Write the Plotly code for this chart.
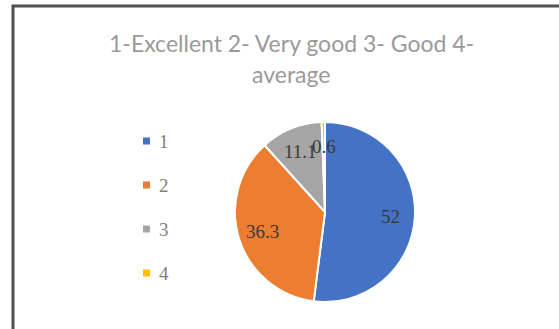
import math
import plotly.graph_objects as go

# Survey rating distribution (percent)
categories = ["1", "2", "3", "4"]
values = [52, 36.3, 11.1, 0.6]
colors = ["#4472C4", "#ED7D31", "#A5A5A5", "#FFC000"]
title_lines = ["1-Excellent 2- Very good 3- Good 4-", "average"]

W, H = 559, 329
cx, cy, r = 325, 212, 90  # pie centre in pixels (from top-left) and radius


def px(x, y):
    """Convert pixel position (from top-left) to paper coordinates."""
    return x / W, 1 - y / H


fig = go.Figure(
    go.Pie(
        labels=categories,
        values=values,
        sort=False,
        direction="clockwise",
        rotation=0,
        marker=dict(colors=colors, line=dict(color="white", width=2)),
        textinfo="none",
        hoverinfo="label+value",
        showlegend=False,
        domain=dict(x=[(cx - r) / W, (cx + r) / W],
                    y=[(H - cy - r) / H, (H - cy + r) / H]),
    )
)

annotations = []
shapes = []

# Data labels placed inside each slice at its mid-angle
total = sum(values)
cum = 0.0
label_frac = 0.73
for v in values:
    mid = (cum + v / 2) / total * 2 * math.pi
    cum += v
    lx = cx + label_frac * r * math.sin(mid)
    ly = cy - label_frac * r * math.cos(mid)
    xp, yp = px(lx, ly)
    annotations.append(dict(
        x=xp, y=yp, xref="paper", yref="paper", showarrow=False,
        text=f"{v:g}", xanchor="center", yanchor="middle",
        font=dict(family="Liberation Serif", size=19, color="#3a3a3a"),
    ))

# Legend: coloured square markers with category names
for i, (cat, col) in enumerate(zip(categories, colors)):
    ly = 141 + 44 * i
    x0, y0 = px(143, ly - 3.5)
    x1, y1 = px(150, ly + 3.5)
    shapes.append(dict(type="rect", xref="paper", yref="paper",
                       x0=x0, x1=x1, y0=y0, y1=y1,
                       fillcolor=col, line=dict(width=0)))
    tx, ty = px(157, ly)
    annotations.append(dict(
        x=tx, y=ty, xref="paper", yref="paper", showarrow=False,
        text=cat, xanchor="left", yanchor="middle",
        font=dict(family="Liberation Serif", size=19, color="#808080"),
    ))

# Two-line chart title
for line, ty in zip(title_lines, [43, 74]):
    tx, typ = px(291, ty)
    annotations.append(dict(
        x=tx, y=typ, xref="paper", yref="paper", showarrow=False,
        text=line, xanchor="center", yanchor="middle",
        font=dict(family="Lato", size=23, color="#9a9a9a"),
    ))

# Chart frame (left and top edges visible)
fx0, fy1 = px(13, 6)
shapes.append(dict(type="rect", xref="paper", yref="paper",
                   x0=fx0, x1=1.05, y0=-0.05, y1=fy1,
                   line=dict(color="#505050", width=3)))

fig.update_layout(
    width=W, height=H,
    margin=dict(l=0, r=0, t=0, b=0),
    paper_bgcolor="white",
    plot_bgcolor="white",
    annotations=annotations,
    shapes=shapes,
)

fig.write_html("out.html")
